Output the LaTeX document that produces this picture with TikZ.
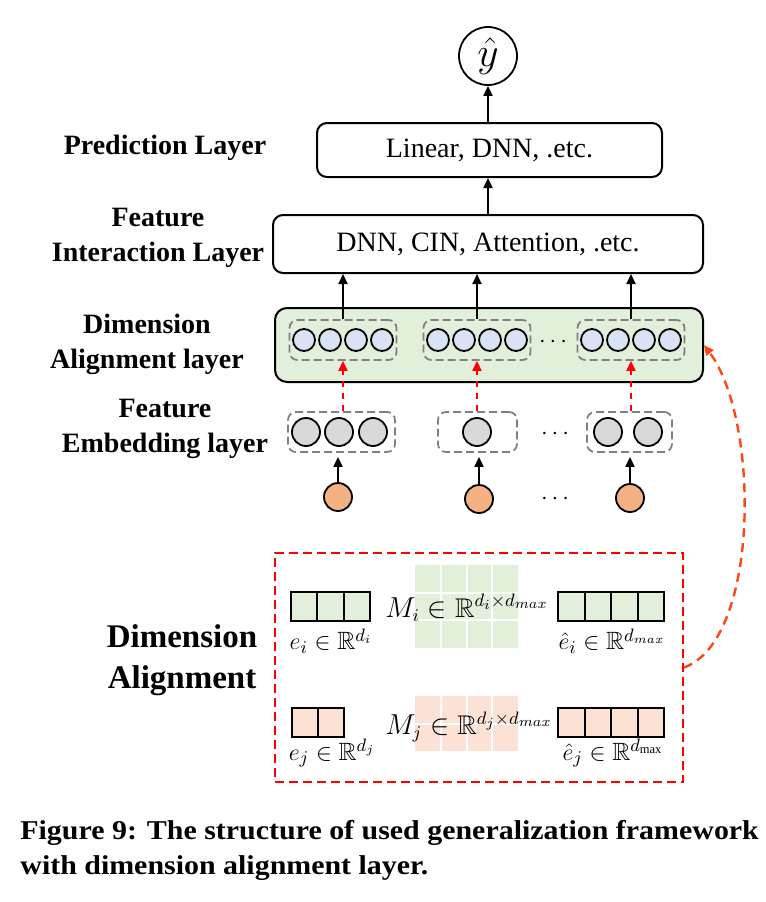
\documentclass[tikz,border=0pt]{standalone}
\usepackage{amsmath,amssymb}
\usepackage{fontspec}
\setmainfont{Liberation Serif}
\newfontfamily\capfont[FakeStretch=1.1]{Liberation Serif}
\usetikzlibrary{arrows.meta}
\definecolor{algreen}{RGB}{226,239,218}
\definecolor{cblue}{RGB}{218,227,243}
\definecolor{cgray}{RGB}{217,217,217}
\definecolor{corange}{RGB}{244,177,131}
\definecolor{morange}{RGB}{251,226,213}
\definecolor{curvered}{RGB}{255,69,20}

\begin{document}
\begin{tikzpicture}[x=0.5pt,y=-0.5pt,
    layer/.style={draw,line width=1pt,rounded corners=5pt,font=\fontsize{14}{17}\selectfont},
    grp/.style={draw=gray,line width=0.9pt,dash pattern=on 4pt off 2pt,rounded corners=4pt,minimum height=20pt},
    dot/.style={circle,draw,line width=0.9pt,inner sep=0pt},
    side/.style={font=\bfseries\fontsize{14}{17.5}\selectfont,align=center},
    up/.style={-{Triangle[length=5pt,width=4.5pt]},line width=1pt},
    redup/.style={up,red,dash pattern=on 3pt off 3pt},
    mth/.style={font=\fontsize{12.5}{15}\selectfont,inner sep=1pt},
    dots/.style={font=\fontsize{12}{14}\selectfont,inner sep=0pt}
  ]
    \useasboundingbox (0,0) rectangle (766,902);
    % layers
    \node[circle,draw,line width=0.9pt,minimum size=29pt,inner sep=0pt,font=\fontsize{20}{24}\selectfont] (yhat) at (488,56) {$\hat{y}$};
    \node[layer,minimum width=172.5pt,minimum height=27pt] (lin) at (489.5,150) {Linear, DNN, .etc.};
    \node[layer,minimum width=215pt,minimum height=29pt] (inter) at (488,244) {DNN, CIN, Attention, .etc.};
    \node[layer,fill=algreen,rounded corners=6pt,minimum width=214pt,minimum height=37pt] (align) at (489,345) {};
    \draw[up] (yhat.south |- lin.north) -- (yhat.south);
    \draw[up] (inter.north -| yhat.south) -- (yhat.south |- lin.south);
    % side labels
    \node[side] (lp) at (165,148) {Prediction Layer};
    \node[side] (li) at (158,238) {Feature\\Interaction Layer};
    \node[side] (la) at (147,344) {Dimension\\Alignment layer};
    \node[side] (le) at (165,429) {Feature\\Embedding layer};
    \node[side,font=\bfseries\fontsize{16.5}{20.5}\selectfont] (ld) at (182,660) {Dimension\\Alignment};
    % aligned embeddings
    \foreach \i/\x in {1/343,2/477,3/631}{
      \node[grp,minimum width=53.5pt] (ag\i) at (\x,340) {};
      \foreach \d [count=\k] in {-39,-13,13,39}
        \node[dot,fill=cblue,minimum size=11pt] (a\i\k) at (\x+\d,340) {};
      \draw[up] (ag\i.north) -- (ag\i.north |- inter.south);
    }
    \node[dots] (adots) at (555,342) {$\cdots$};
    % feature embeddings
    \node[grp,minimum width=53.5pt] (eg1) at (341.5,432) {};
    \node[grp,minimum width=39.5pt] (eg2) at (477.5,432) {};
    \node[grp,minimum width=42.5pt] (eg3) at (629.5,432) {};
    \foreach \x [count=\k] in {306,339,373}
      \node[dot,fill=cgray,minimum size=14pt] (e1\k) at (\x,432) {};
    \node[dot,fill=cgray,minimum size=14pt] (e21) at (477,432) {};
    \foreach \x [count=\k] in {608,648}
      \node[dot,fill=cgray,minimum size=14pt] (e3\k) at (\x,432) {};
    \node[dots] (edots) at (557,434) {$\cdots$};
    \foreach \i in {1,2,3}
      \draw[redup] (eg\i.north -| ag\i.south) -- (ag\i.south);
    % raw features
    \node[dot,fill=corange,minimum size=14pt] (o1) at (338,497) {};
    \node[dot,fill=corange,minimum size=14pt] (o2) at (479,499) {};
    \node[dot,fill=corange,minimum size=14pt] (o3) at (630,498) {};
    \node[dots] (odots) at (557,499) {$\cdots$};
    \foreach \i in {1,2,3}
      \draw[up,shorten >=2pt] (o\i.north) -- (o\i.north |- eg\i.south);
    % dimension alignment detail
    \node[draw=red,line width=1pt,dash pattern=on 4.5pt off 2.5pt,minimum width=204pt,minimum height=114.5pt] (dabox) at (479,667.5) {};
    \fill[algreen] (415,565) rectangle (518,648);
    \fill[morange] (415,696) rectangle (518,751);
    \foreach \k in {1,2,3}{
      \draw[white,line width=1pt] (415+25.75*\k,565) -- (415+25.75*\k,648);
      \draw[white,line width=1pt] (415+25.75*\k,696) -- (415+25.75*\k,751);
    }
    \foreach \k in {1,2}
      \draw[white,line width=1pt] (415,565+27.7*\k) -- (518,565+27.7*\k);
    \draw[white,line width=1pt] (415,723.5) -- (518,723.5);
    \foreach \k in {0,1,2}
      \draw[fill=algreen,line width=1pt] (291+26.3*\k,592) rectangle +(26.3,29);
    \foreach \k in {0,...,3}
      \draw[fill=algreen,line width=1pt] (558+26.5*\k,592) rectangle +(26.5,29);
    \foreach \k in {0,1}
      \draw[fill=morange,line width=1pt] (292+26*\k,708) rectangle +(26,29);
    \foreach \k in {0,...,3}
      \draw[fill=morange,line width=1pt] (558+26.5*\k,708) rectangle +(26.5,29);
    \node[mth] (ei) at (331,641) {$e_i\in\mathbb{R}^{d_i}$};
    \node[mth,font=\fontsize{13.5}{16}\selectfont] (mi) at (467,608) {$M_i\in\mathbb{R}^{d_i\times d_{max}}$};
    \node[mth] (hei) at (612,641) {$\hat{e}_i\in\mathbb{R}^{d_{max}}$};
    \node[mth] (ej) at (332,753) {$e_j\in\mathbb{R}^{d_j}$};
    \node[mth,font=\fontsize{13.5}{16}\selectfont] (mj) at (469,727) {$M_j\in\mathbb{R}^{d_j\times d_{max}}$};
    \node[mth] (hej) at (613,753) {$\hat{e}_j\in\mathbb{R}^{d_{\max}}$};
    \draw[-{Triangle[length=5pt,width=4.5pt]},curvered,line width=1.2pt,dash pattern=on 4.5pt off 3pt]
      (dabox.east) .. controls (760,640) and (760,420) .. (align.east);
    % caption
    \node[anchor=base west,inner sep=0pt,font=\capfont\bfseries\fontsize{13.6}{17}\selectfont] (cap1) at (20,839) {Figure 9: The structure of used generalization framework};
    \node[anchor=base west,inner sep=0pt,font=\capfont\bfseries\fontsize{13.6}{17}\selectfont] (cap2) at (20,874) {with dimension alignment layer.};
\end{tikzpicture}
\end{document}
